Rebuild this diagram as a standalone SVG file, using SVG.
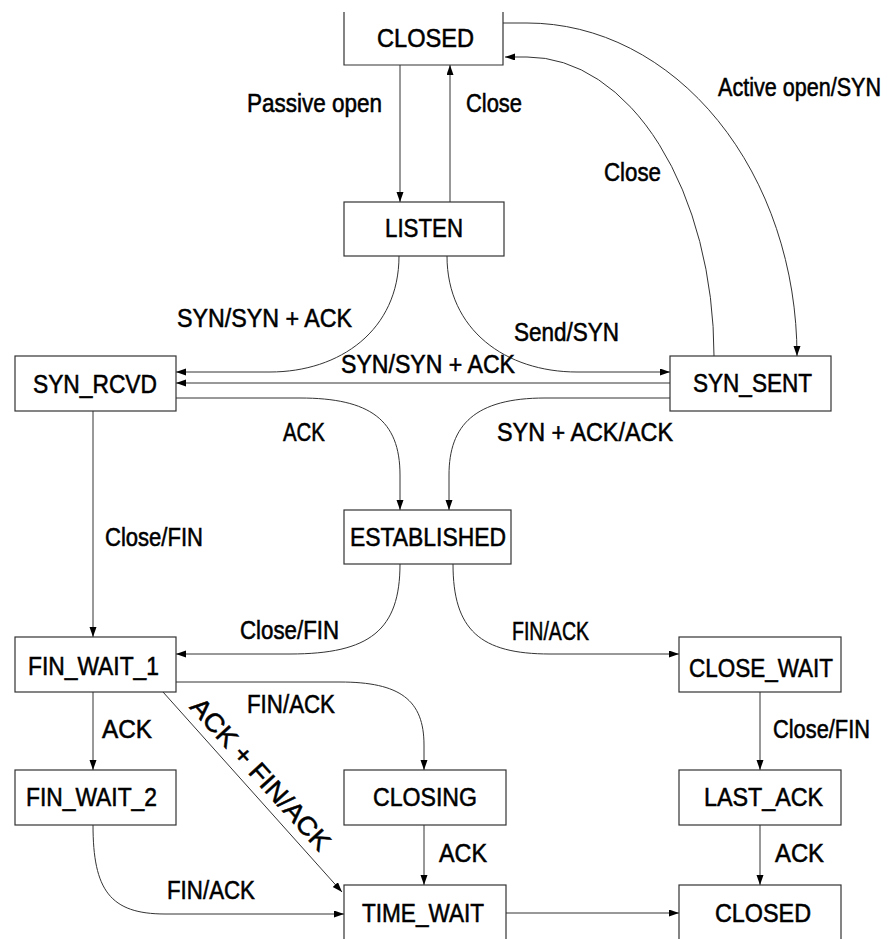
<svg xmlns="http://www.w3.org/2000/svg" width="891" height="939" viewBox="0 0 891 939">
<style>
.box{fill:#fff;stroke:#333;stroke-width:1.2}
.t{font-family:"Liberation Sans",Arial,sans-serif;font-size:26px;fill:#000;stroke:#000;stroke-width:0.55}
.e{fill:none;stroke:#333;stroke-width:1;marker-end:url(#ah)}
</style>
<defs>
<marker id="ah" markerUnits="userSpaceOnUse" markerWidth="10" markerHeight="8" refX="10" refY="3.5" orient="auto">
<path d="M0,0 L10,3.5 L0,7 z" fill="#000"/>
</marker>
</defs>
<rect width="891" height="939" fill="#fff"/>
<g id="connectors">
<path class="e" d="M400,65 V202"/>
<path class="e" d="M450,202 V65"/>
<path class="e" d="M503,23 H527 A270,333 0 0 1 797,356"/>
<path class="e" d="M714,356 A187,299 0 0 0 527,57 H505"/>
<path class="e" d="M399,256 C399,330 340,372 270,372 H176"/>
<path class="e" d="M447,256 C447,330 506,372 577,372 H670"/>
<path class="e" d="M670,383 H176"/>
<path class="e" d="M176,398 H300 C370,398 400,420 400,475 V510"/>
<path class="e" d="M670,398 H545 C475,398 449,425 449,475 V510"/>
<path class="e" d="M93,411 V637"/>
<path class="e" d="M400,564 C400,630 370,654 290,654 H176"/>
<path class="e" d="M453,564 C453,630 480,654 550,654 H679"/>
<path class="e" d="M93,692 V770"/>
<path class="e" d="M176,682 H340 C400,682 424,700 424,745 V770"/>
<path class="e" d="M163,692 L342,892"/>
<path class="e" d="M93,825 C93,890 110,914 165,914 H344"/>
<path class="e" d="M424,825 V885"/>
<path class="e" d="M760,692 V770"/>
<path class="e" d="M760,825 V885"/>
<path class="e" d="M506,913 H679"/>
</g>
<g id="closed-top"><path class="box" d="M344,12 V65 H503 V12"/><text class="t" x="377" y="47" textLength="97" lengthAdjust="spacingAndGlyphs">CLOSED</text></g>
<g id="listen"><rect class="box" x="344" y="202" width="160" height="54"/><text class="t" x="385" y="237" textLength="78" lengthAdjust="spacingAndGlyphs">LISTEN</text></g>
<g id="syn-rcvd"><rect class="box" x="15" y="356" width="161" height="55"/><text class="t" x="33" y="393" textLength="124" lengthAdjust="spacingAndGlyphs">SYN_RCVD</text></g>
<g id="syn-sent"><rect class="box" x="670" y="356" width="161" height="55"/><text class="t" x="693" y="392" textLength="119" lengthAdjust="spacingAndGlyphs">SYN_SENT</text></g>
<g id="established"><rect class="box" x="344" y="510" width="167" height="54"/><text class="t" x="350" y="546" textLength="156" lengthAdjust="spacingAndGlyphs">ESTABLISHED</text></g>
<g id="fin-wait-1"><rect class="box" x="15" y="637" width="161" height="55"/><text class="t" x="28" y="675" textLength="131" lengthAdjust="spacingAndGlyphs">FIN_WAIT_1</text></g>
<g id="close-wait"><rect class="box" x="679" y="637" width="162" height="55"/><text class="t" x="689" y="677" textLength="144" lengthAdjust="spacingAndGlyphs">CLOSE_WAIT</text></g>
<g id="fin-wait-2"><rect class="box" x="15" y="770" width="161" height="55"/><text class="t" x="26" y="806" textLength="131" lengthAdjust="spacingAndGlyphs">FIN_WAIT_2</text></g>
<g id="closing"><rect class="box" x="344" y="770" width="162" height="55"/><text class="t" x="373" y="806" textLength="104" lengthAdjust="spacingAndGlyphs">CLOSING</text></g>
<g id="last-ack"><rect class="box" x="679" y="770" width="162" height="55"/><text class="t" x="704" y="806" textLength="119" lengthAdjust="spacingAndGlyphs">LAST_ACK</text></g>
<g id="time-wait"><rect class="box" x="344" y="885" width="162" height="70"/><text class="t" x="362" y="922" textLength="122" lengthAdjust="spacingAndGlyphs">TIME_WAIT</text></g>
<g id="closed-bottom"><rect class="box" x="679" y="885" width="162" height="70"/><text class="t" x="715" y="922" textLength="96" lengthAdjust="spacingAndGlyphs">CLOSED</text></g>
<g id="labels">
<text class="t" x="247" y="112" textLength="135" lengthAdjust="spacingAndGlyphs">Passive open</text>
<text class="t" x="466" y="112" textLength="56" lengthAdjust="spacingAndGlyphs">Close</text>
<text class="t" x="604" y="181" textLength="57" lengthAdjust="spacingAndGlyphs">Close</text>
<text class="t" transform="translate(718,96) scale(0.83,1)">Active open/SYN</text>
<text class="t" x="177" y="327" textLength="175" lengthAdjust="spacingAndGlyphs">SYN/SYN + ACK</text>
<text class="t" x="514" y="341" textLength="105" lengthAdjust="spacingAndGlyphs">Send/SYN</text>
<text class="t" x="341" y="373" textLength="174" lengthAdjust="spacingAndGlyphs">SYN/SYN + ACK</text>
<text class="t" x="283" y="441" textLength="42" lengthAdjust="spacingAndGlyphs">ACK</text>
<text class="t" x="497" y="441" textLength="176" lengthAdjust="spacingAndGlyphs">SYN + ACK/ACK</text>
<text class="t" x="105" y="546" textLength="98" lengthAdjust="spacingAndGlyphs">Close/FIN</text>
<text class="t" x="240" y="639" textLength="99" lengthAdjust="spacingAndGlyphs">Close/FIN</text>
<text class="t" x="512" y="640" textLength="77" lengthAdjust="spacingAndGlyphs">FIN/ACK</text>
<text class="t" x="247" y="713" textLength="88" lengthAdjust="spacingAndGlyphs">FIN/ACK</text>
<text class="t" x="102" y="738" textLength="50" lengthAdjust="spacingAndGlyphs">ACK</text>
<text class="t" x="773" y="738" textLength="97" lengthAdjust="spacingAndGlyphs">Close/FIN</text>
<text class="t" text-anchor="middle" transform="translate(254,780) rotate(48)" textLength="195" lengthAdjust="spacingAndGlyphs">ACK + FIN/ACK</text>
<text class="t" x="439" y="862" textLength="48" lengthAdjust="spacingAndGlyphs">ACK</text>
<text class="t" x="775" y="862" textLength="49" lengthAdjust="spacingAndGlyphs">ACK</text>
<text class="t" x="167" y="899" textLength="88" lengthAdjust="spacingAndGlyphs">FIN/ACK</text>
</g>
</svg>
